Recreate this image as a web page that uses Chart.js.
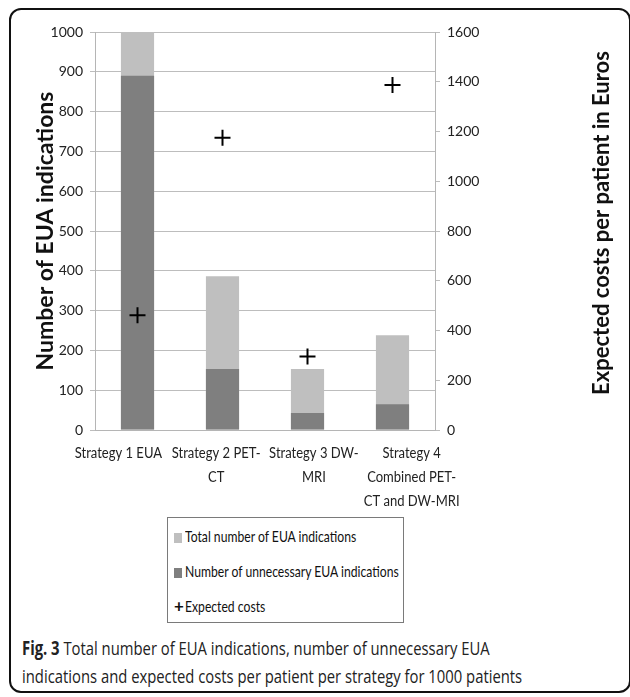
<!DOCTYPE html>
<html>
<head>
<meta charset="utf-8">
<script src="https://cdn.jsdelivr.net/npm/chart.js@4.4.1/dist/chart.umd.min.js"></script>
<style>
  html, body { margin: 0; padding: 0; background: #fff; }
  body { width: 630px; height: 697px; position: relative; overflow: hidden; font-family: Lato, "Open Sans", sans-serif; }
  #frame { position: absolute; left: 9px; top: 8px; width: 622px; height: 685px; box-sizing: border-box;
           border: 2px solid #111; border-radius: 12px; }
  #chartBox { position: absolute; left: 0; top: 0; width: 630px; height: 515px; }
  #legend { position: absolute; left: 167px; top: 517px; width: 237px; height: 106px; box-sizing: border-box;
            border: 1px solid #7a7a7a; background: #fff; }
  .item { position: absolute; left: 6px; height: 22px; line-height: 22px; color: #111; white-space: nowrap; }
  .sw { display: inline-block; width: 8px; height: 10px; margin-right: 3px; vertical-align: -1px; }
  .plus { display: inline-block; width: 9px; margin-right: 2px; font-weight: bold; font-size: 17px; }
  .txt { display: inline-block; font-size: 16px; transform: scaleX(0.76); transform-origin: 0 50%; }
  #caption { position: absolute; left: 22px; top: 634px; width: 620px; font-family: "Open Sans", sans-serif;
             font-size: 19px; line-height: 28px; color: #222; transform: scaleX(0.78); transform-origin: 0 0; white-space: nowrap; }
  #caption b { font-weight: 700; }
</style>
</head>
<body>
<div id="frame"></div>
<div id="chartBox"><canvas id="chart"></canvas></div>
<div id="legend"></div>
<div id="caption"><b>Fig. 3</b> Total number of EUA indications, number of unnecessary EUA<br>indications and expected costs per patient per strategy for 1000 patients</div>
<script>
// categories (wrapped the way the axis shows them)
var strategies = [
    ['Strategy 1 EUA'],
    ['Strategy 2 PET-', 'CT'],
    ['Strategy 3 DW-', 'MRI'],
    ['Strategy 4', 'Combined PET-', 'CT and DW-MRI']
];
// number of EUA indications per 1000 patients
var totalIndications = [1000, 386, 153, 238];
var unnecessaryIndications = [890, 153, 43, 65];
// expected costs per patient (Euros)
var expectedCosts = [461, 1175, 295, 1387];

var seriesNames = ['Total number of EUA indications', 'Number of unnecessary EUA indications', 'Expected costs'];
var leftTitle = 'Number of EUA indications';
var rightTitle = 'Expected costs per patient in Euros';

var tickFont = { family: 'Lato', size: 14 };
var titleFont = { family: 'Lato', size: 23, weight: 'bold' };

// right axis title reads bottom-to-top in the figure, and the category
// labels are spread a bit wider than the bars (the way Excel lays them out)
var axisExtras = {
    id: 'axisExtras',
    afterDraw: function(chart){
        var c = chart.ctx;
        var r = chart.scales.y1;
        c.save();
        c.translate(r.right - 17, (r.top + r.bottom) / 2 - 8);
        c.rotate(-Math.PI / 2);
        c.font = 'bold 22px Lato';
        c.fillStyle = '#111';
        c.textAlign = 'center';
        c.textBaseline = 'middle';
        c.fillText(rightTitle, 0, 0);
        c.restore();

        var x = chart.scales.x;
        var mid = (x.left + x.right) / 2;
        c.save();
        c.font = '15.5px Lato';
        c.fillStyle = '#222';
        c.textAlign = 'center';
        c.textBaseline = 'middle';
        chart.data.labels.forEach(function(lines, i){
            var px = x.getPixelForTick(i);
            var cx = mid + (px - mid) * 1.15;
            lines.forEach(function(line, k){
                c.save();
                c.translate(cx, x.top + 23 + k * 24);
                c.scale(0.84, 1);
                c.fillText(line, 0, 0);
                c.restore();
            });
        });
        c.restore();
    }
};

var ctx = document.getElementById('chart').getContext('2d');
var chart = new Chart(ctx, {
    type: 'bar',
    data: {
        labels: strategies,
        datasets: [
            {
                label: seriesNames[0],
                data: totalIndications,
                backgroundColor: '#bfbfbf',
                yAxisID: 'y',
                order: 2,
                barPercentage: 0.39,
                categoryPercentage: 1
            },
            {
                label: seriesNames[1],
                data: unnecessaryIndications,
                backgroundColor: '#7f7f7f',
                yAxisID: 'y',
                order: 1,
                barPercentage: 0.39,
                categoryPercentage: 1
            },
            {
                type: 'line',
                label: seriesNames[2],
                data: expectedCosts,
                yAxisID: 'y1',
                showLine: false,
                pointStyle: 'cross',
                pointRadius: 8,
                pointBorderWidth: 2,
                borderColor: '#000',
                backgroundColor: '#000',
                order: 0
            }
        ]
    },
    options: {
        responsive: true,
        maintainAspectRatio: false,
        animation: false,
        layout: { padding: { left: 28, right: 11, top: 32, bottom: 0 } },
        plugins: {
            legend: { display: false },
            tooltip: { enabled: false }
        },
        scales: {
            x: {
                stacked: true,
                grid: { display: false },
                border: { color: '#b5b5b5' },
                ticks: { display: false },
                afterFit: function(scale){ scale.height = 85; }
            },
            y: {
                position: 'left',
                min: 0,
                max: 1000,
                ticks: { stepSize: 100, font: tickFont, color: '#222', padding: 7,
                         callback: function(v){ return String(v); } },
                grid: { color: '#bdbdbd', tickLength: 5 },
                border: { color: '#b5b5b5' },
                title: { display: true, text: leftTitle, font: titleFont, color: '#111' },
                afterFit: function(scale){ scale.width = 67; }
            },
            y1: {
                position: 'right',
                min: 0,
                max: 1600,
                ticks: { stepSize: 200, font: tickFont, color: '#222', padding: 7,
                         callback: function(v){ return String(v); } },
                grid: { drawOnChartArea: false, color: '#bdbdbd', tickLength: 5 },
                border: { color: '#b5b5b5' },
                afterFit: function(scale){ scale.width = 184; }
            }
        }
    },
    plugins: [axisExtras]
});

// legend built from the chart's datasets, stacked vertically like the figure
var legendBox = document.getElementById('legend');
var rowTops = [7, 42, 77];
chart.data.datasets.forEach(function(ds, k){
    var row = document.createElement('div');
    row.className = 'item';
    row.style.top = rowTops[k] + 'px';
    if(ds.type === 'line'){
        var p = document.createElement('span');
        p.className = 'plus';
        p.textContent = '+';
        row.appendChild(p);
    } else {
        var sw = document.createElement('span');
        sw.className = 'sw';
        sw.style.background = ds.backgroundColor;
        row.appendChild(sw);
    }
    var t = document.createElement('span');
    t.className = 'txt';
    t.textContent = ds.label;
    row.appendChild(t);
    legendBox.appendChild(row);
});
</script>
</body>
</html>
